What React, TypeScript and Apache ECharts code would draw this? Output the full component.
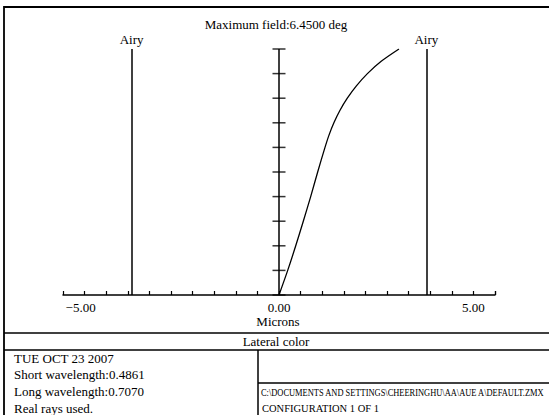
import React, { useEffect, useRef } from 'react';
import * as echarts from 'echarts';

// Lateral colour curve (field angle in degrees vs lateral colour in microns)
const fieldDeg = [0, 0.645, 1.29, 1.935, 2.58, 3.225, 3.87, 4.1925, 4.515, 4.8375, 5.16, 5.4825, 5.805, 6.1275, 6.45];
const lateralMicrons = [0, 0.224, 0.43, 0.625, 0.815, 0.995, 1.183, 1.286, 1.412, 1.566, 1.757, 1.991, 2.274, 2.629, 3.086];
// ticks on the central field axis
const fieldTicks = [0, 0.645, 1.29, 1.935, 2.58, 3.225, 3.87, 4.515, 5.16, 5.805, 6.45];
const airyRadius = [-3.79, 3.79];
const airyLabel = 'Airy';
const xLabelValues = [-5, 0, 5];
const xMin = -50 / 9;
const xMax = 50 / 9;
const xStep = 5 / 9;
const fieldMax = 6.45;

const titleText = 'Maximum field:6.4500 deg';
const axisName = 'Microns';
const plotName = 'Lateral color';
const infoLines = ['TUE OCT 23 2007', 'Short wavelength:0.4861', 'Long wavelength:0.7070', 'Real rays used.'];
const pathText = 'C:\\DOCUMENTS AND SETTINGS\\CHEERINGHU\\AA\\AUE A\\DEFAULT.ZMX';
const configText = 'CONFIGURATION 1 OF 1';

const FONT = "'Liberation Serif', 'Times New Roman', serif";

export default function App() {
  const ref = useRef<HTMLDivElement>(null);
  useEffect(() => {
    document.body.style.margin = '0';
    if (!ref.current) return;
    const chart = echarts.init(ref.current, undefined, { renderer: 'svg' });

    let pathScale = 0.75;
    try {
      const ctx = document.createElement('canvas').getContext('2d');
      if (ctx) {
        ctx.font = '11px ' + FONT;
        const w = ctx.measureText(pathText).width;
        if (w > 0) pathScale = 284 / w;
      }
    } catch (e) {}

    const curve = fieldDeg.map((f, i) => [lateralMicrons[i], f]);
    const ticks = fieldTicks.map((f) => [0, f]);

    const txt = (text: string, x: number, y: number, align: string, size = 13, extra: any = {}) => ({
      type: 'text',
      x,
      y,
      silent: true,
      ...extra,
      style: { text, font: size + 'px ' + FONT, fill: '#000', textAlign: align, verticalAlign: 'middle' },
    });
    const ln = (x1: number, y1: number, x2: number, y2: number, w = 1.5) => ({
      type: 'line',
      silent: true,
      shape: { x1, y1, x2, y2 },
      style: { stroke: '#000', lineWidth: w },
    });

    chart.setOption({
      animation: false,
      backgroundColor: '#fff',
      grid: { left: 63, right: 54, top: 49, bottom: 120, containLabel: false },
      xAxis: {
        type: 'value',
        min: xMin,
        max: xMax,
        interval: xStep,
        splitLine: { show: false },
        axisLine: { show: true, onZero: false, lineStyle: { color: '#000', width: 1.5 } },
        axisTick: { show: true, inside: true, length: 4, lineStyle: { color: '#000', width: 1.2 } },
        axisLabel: { show: false },
      },
      yAxis: { type: 'value', min: 0, max: fieldMax, show: false },
      series: [
        {
          type: 'line',
          data: curve,
          showSymbol: false,
          smooth: 0.3,
          lineStyle: { color: '#000', width: 1.3 },
          markLine: {
            silent: true,
            symbol: 'none',
            lineStyle: { color: '#000', width: 1.5, type: 'solid' },
            label: { show: false },
            data: airyRadius.map((r) => ({ xAxis: r })),
          },
        },
        {
          type: 'line',
          data: [[0, 0], [0, fieldMax]],
          showSymbol: false,
          lineStyle: { color: '#000', width: 1.5 },
        },
        {
          type: 'scatter',
          data: ticks,
          symbol: 'rect',
          symbolSize: [13, 1.5],
          itemStyle: { color: '#000' },
          silent: true,
        },
      ],
    });

    // labels positioned through the chart's own scales
    const px = (x: number, y: number) => chart.convertToPixel({ gridIndex: 0 }, [x, y]) as number[];
    const tickLabels = xLabelValues.map((v) => {
      const p = px(v, 0);
      const s = (v < 0 ? '\u2212' : '') + Math.abs(v).toFixed(2);
      return txt(s, p[0] - (v < 0 ? 4 : 0), p[1] + 12, 'center');
    });
    const airyLabels = airyRadius.map((r) => {
      const p = px(r, fieldMax);
      return txt(airyLabel, p[0], p[1] - 10, 'center');
    });

    chart.setOption({
      graphic: [
        {
          type: 'rect',
          silent: true,
          shape: { x: 4, y: 7, width: 600, height: 450 },
          style: { fill: 'none', stroke: '#000', lineWidth: 1.8 },
        },
        txt(titleText, 276, 24, 'center'),
        ...airyLabels,
        ...tickLabels,
        txt(axisName, 278, 321, 'center'),
        ln(4, 333, 549, 333),
        txt(plotName, 276, 341.5, 'center'),
        ln(4, 350, 549, 350),
        ln(258, 350, 258, 415),
        ln(258, 383, 549, 383),
        ...infoLines.map((t, i) => txt(t, 14, 358 + i * 16.8, 'left')),
        txt(pathText, 261, 392, 'left', 11, { scaleX: pathScale }),
        txt(configText, 262, 408, 'left', 10.5),
      ],
    });
    return () => chart.dispose();
  }, []);
  return <div ref={ref} style={{ width: 549, height: 415 }} />;
}
